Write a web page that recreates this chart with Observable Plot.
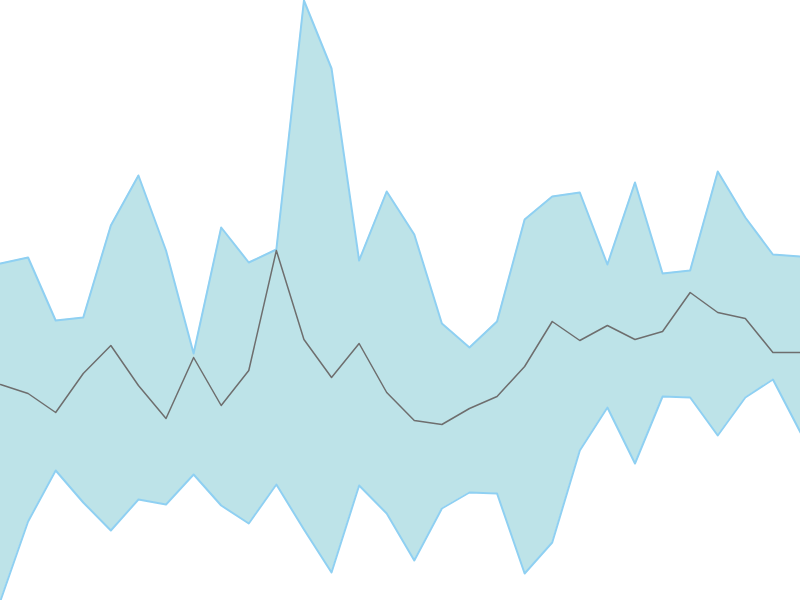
<!DOCTYPE html>
<html>
<head>
<meta charset="utf-8">
<script src="https://cdn.jsdelivr.net/npm/d3@7"></script>
<script src="https://cdn.jsdelivr.net/npm/@observablehq/plot@0.6"></script>
<style>
html,body{margin:0;padding:0;background:#fff;}
</style>
</head>
<body>
<div id="chart"></div>
<script>
const upper = [337,343,280,283,375,425,350,247,373,338,351,600,532,340,409,366,277,253,279,381,404,408,336,418,327,330,429,383,346,344];
const middle = [216,207,188,227,255,215,182,243,195,230,350,261,223,257,208,180,176,192,204,234,279,260,275,261,269,308,288,282,248,248];
const lower = [0,79,130,98,70,101,96,126,95,77,116,71,28,115,87,40,92,108,107,27,58,150,193,137,204,203,165,203,221,168];

const data = upper.map((u, i) => ({i, upper: u, middle: middle[i], lower: lower[i]}));

const chart = Plot.plot({
  width: 800,
  height: 600,
  margin: 0,
  x: {domain: [0, 29], axis: null},
  y: {domain: [0, 600], axis: null},
  marks: [
    Plot.areaY(data, {x: "i", y1: "lower", y2: "upper", fill: "#bde3e8"}),
    Plot.lineY(data, {x: "i", y: "upper", stroke: "#8fd0f2", strokeWidth: 2}),
    Plot.lineY(data, {x: "i", y: "lower", stroke: "#8fd0f2", strokeWidth: 2}),
    Plot.lineY(data, {x: "i", y: "middle", stroke: "#6e6e6e", strokeWidth: 1.5})
  ]
});
document.getElementById("chart").appendChild(chart);
</script>
</body>
</html>
